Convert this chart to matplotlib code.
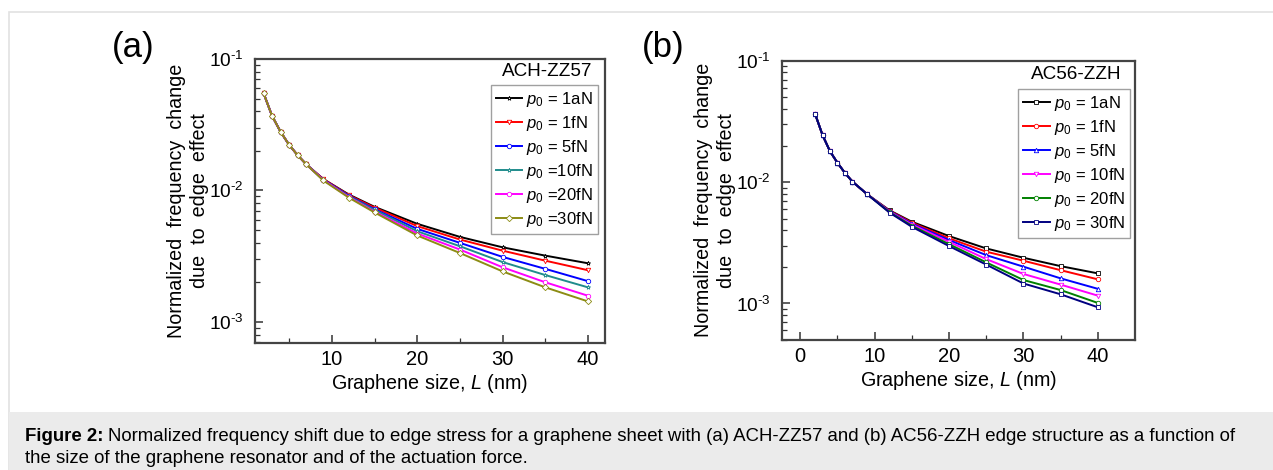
import numpy as np
import matplotlib
matplotlib.use("Agg")
import matplotlib.pyplot as plt
from matplotlib.patches import Rectangle
from matplotlib.ticker import LogLocator, FixedLocator, NullFormatter

plt.rcParams['font.family'] = ['Liberation Sans', 'DejaVu Sans']
plt.rcParams['mathtext.fontset'] = 'custom'
plt.rcParams['mathtext.rm'] = 'Liberation Sans'
plt.rcParams['mathtext.it'] = 'Liberation Sans:italic'

# graphene size L (nm)
L = [2, 3, 4, 5, 6, 7, 9, 12, 15, 20, 25, 30, 35, 40]

# (a) ACH-ZZ57
labels_a = [r'$p_0$ = 1aN', r'$p_0$ = 1fN', r'$p_0$ = 5fN',
            r'$p_0$ =10fN', r'$p_0$ =20fN', r'$p_0$ =30fN']
colors_a = ['black', '#ff0000', '#0000ff', '#1f8c8c', '#ff00ff', '#8c8c14']
markers_a = ['*', 'v', 'o', '*', 'o', 'D']
head_a = [0.055, 0.0369, 0.0279, 0.0222, 0.0185, 0.0158]
a_1aN = head_a + [0.0122, 0.0093, 0.0075, 0.00557, 0.00443, 0.00369, 0.00319, 0.00279]
a_1fN = head_a + [0.0122, 0.0092, 0.0074, 0.00535, 0.00423, 0.00348, 0.00292, 0.00247]
a_5fN = head_a + [0.0121, 0.0091, 0.0072, 0.00510, 0.00399, 0.00312, 0.00253, 0.00204]
a_10fN = head_a + [0.0120, 0.0090, 0.0071, 0.00489, 0.00376, 0.00285, 0.00227, 0.00183]
a_20fN = head_a + [0.0120, 0.0089, 0.0069, 0.00470, 0.00355, 0.00260, 0.00200, 0.00158]
a_30fN = head_a + [0.0119, 0.0088, 0.0068, 0.00454, 0.00334, 0.00242, 0.00183, 0.00143]

# (b) AC56-ZZH
labels_b = [r'$p_0$ = 1aN', r'$p_0$ = 1fN', r'$p_0$ = 5fN',
            r'$p_0$ = 10fN', r'$p_0$ = 20fN', r'$p_0$ = 30fN']
colors_b = ['black', '#ff0000', '#0000ff', '#ff00ff', '#008000', '#000080']
markers_b = ['s', 'o', '^', 'v', 'o', 's']
head_b = [0.0363, 0.0243, 0.0179, 0.0144, 0.0119, 0.0101, 0.00793]
b_1aN = head_b + [0.00585, 0.00471, 0.00359, 0.00284, 0.00238, 0.00203, 0.00177]
b_1fN = head_b + [0.00580, 0.00463, 0.00344, 0.00267, 0.00225, 0.00188, 0.00158]
b_5fN = head_b + [0.00575, 0.00455, 0.00333, 0.00250, 0.00201, 0.00161, 0.00132]
b_10fN = head_b + [0.00570, 0.00447, 0.00322, 0.00232, 0.00175, 0.00143, 0.00116]
b_20fN = head_b + [0.00565, 0.00437, 0.00308, 0.00218, 0.00156, 0.00129, 0.00101]
b_30fN = head_b + [0.00560, 0.00428, 0.00297, 0.00209, 0.00146, 0.00119, 0.00093]

series_a = [a_1aN, a_1fN, a_5fN, a_10fN, a_20fN, a_30fN]
series_b = [b_1aN, b_1fN, b_5fN, b_10fN, b_20fN, b_30fN]

ytick_vals = [1e-3, 1e-2, 1e-1]
ytick_text = [r'10$^{\mathregular{\text{-}3}}$', r'10$^{\mathregular{\text{-}2}}$',
              r'10$^{\mathregular{\text{-}1}}$']

fig = plt.figure(figsize=(12.73, 4.70), dpi=100)

# frame and caption box
fig.add_artist(Rectangle((9/1273, 0), 1.0, 1 - 12/470, transform=fig.transFigure,
                         fc='white', ec='#e2e2e2', lw=1.2, zorder=-10))
fig.add_artist(Rectangle((9/1273, 0), 1.0, 58/470, transform=fig.transFigure,
                         fc='#ebebeb', ec='none', zorder=-9))


def draw_panel(ax, series, labels, colors, markers, xlim, ylim, xticks, title,
               title_y, leg_anchor):
    for ys, lab, c, m in zip(series, labels, colors, markers):
        ax.plot(L, ys, color=c, lw=1.4, marker=m, ms=3.2, mfc='white', mec=c,
                mew=0.6, label=lab)
    ax.set_yscale('log')
    ax.set_xlim(*xlim)
    ax.set_ylim(*ylim)
    ax.xaxis.set_major_locator(FixedLocator(xticks))
    ax.xaxis.set_minor_locator(FixedLocator([5, 15, 25, 35]))
    ax.yaxis.set_minor_locator(LogLocator(base=10, subs=np.arange(2, 10), numticks=10))
    ax.yaxis.set_minor_formatter(NullFormatter())
    ax.set_yticks(ytick_vals)
    ax.set_yticklabels(ytick_text)
    ax.tick_params(which='both', direction='in', color='#333333',
                   top=False, right=False)
    ax.tick_params(axis='y', pad=8, labelsize=13.8)
    ax.tick_params(axis='x', pad=5, labelsize=14.5)
    ax.tick_params(which='major', length=6, width=1.1)
    ax.tick_params(which='minor', length=3.5, width=0.9)
    for s in ax.spines.values():
        s.set_color('#444444')
        s.set_linewidth(1.6)
    ax.set_xlabel(r'Graphene size, $L$ (nm)', fontsize=14.2, labelpad=2)
    ax.set_ylabel('Normalized  frequency  change\ndue  to  edge  effect',
                  fontsize=14.2, labelpad=0, linespacing=1.25)
    ax.text(0.835, title_y, title, transform=ax.transAxes, ha='center', va='center',
            fontsize=13.6)
    leg = ax.legend(loc='upper right', bbox_to_anchor=leg_anchor, fontsize=12,
                    frameon=True, fancybox=False, edgecolor='#888888',
                    handlelength=1.6, handletextpad=0.25, labelspacing=0.3,
                    borderpad=0.3, borderaxespad=0.0)
    leg.get_frame().set_linewidth(1.0)
    return ax


ax1 = fig.add_axes([255/1273, 1 - 343/470, 350/1273, 284/470])
draw_panel(ax1, series_a, labels_a, colors_a, markers_a, (1, 42), (6.9e-4, 0.1),
           [10, 20, 30, 40], 'ACH-ZZ57', 0.955, (0.98, 0.908))
ax2 = fig.add_axes([781.7/1273, 1 - 340/470, 353.3/1273, 279.3/470])
draw_panel(ax2, series_b, labels_b, colors_b, markers_b, (-2.5, 45), (5e-4, 0.1),
           [0, 10, 20, 30, 40], 'AC56-ZZH', 0.949, (0.986, 0.899))

fig.text(133/1273, 1 - 47/470, '(a)', fontsize=25, ha='center', va='center')
fig.text(663/1273, 1 - 47/470, '(b)', fontsize=25, ha='center', va='center')

# caption
cap_size = 13.4
head = fig.text(25/1273, 1 - 441/470, 'Figure 2:', fontsize=cap_size,
                fontweight='bold', ha='left', va='baseline')
fig.canvas.draw()
bb = head.get_window_extent(renderer=fig.canvas.get_renderer())
fig.text((bb.x1 + 4)/1273, 1 - 441/470,
         'Normalized frequency shift due to edge stress for a graphene sheet with (a) '
         'ACH-ZZ57 and (b) AC56-ZZH edge structure as a function of',
         fontsize=cap_size, ha='left', va='baseline')
fig.text(25/1273, 1 - 463/470,
         'the size of the graphene resonator and of the actuation force.',
         fontsize=cap_size, ha='left', va='baseline')

fig.savefig('out.png', dpi=100)
